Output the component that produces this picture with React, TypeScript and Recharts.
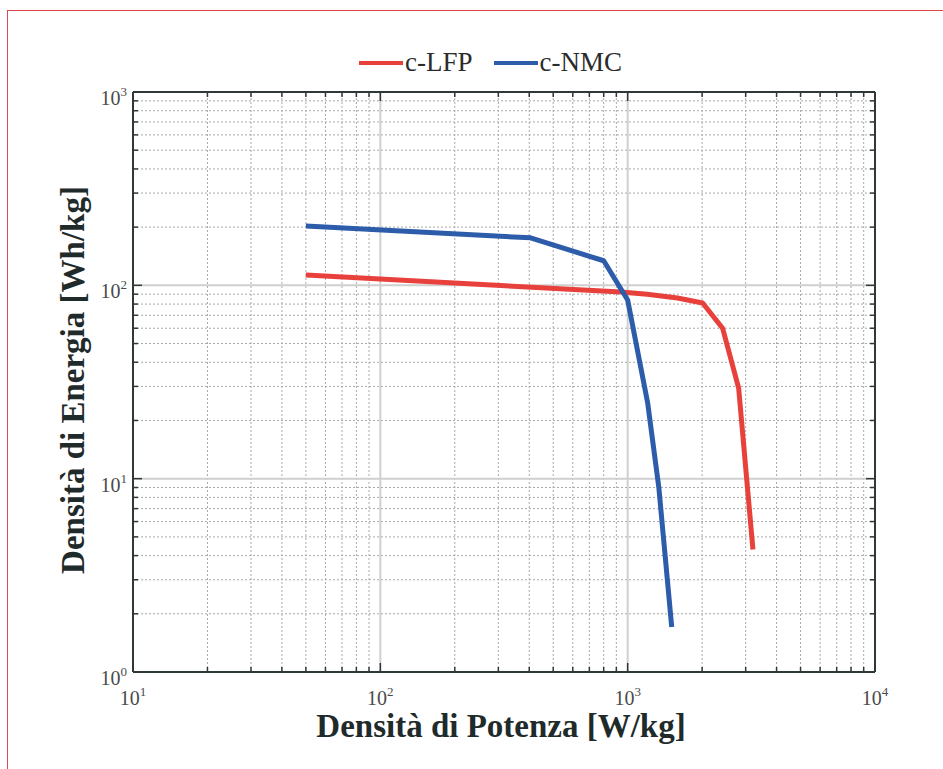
import React from 'react';
import { LineChart, Line, XAxis, YAxis, ReferenceLine, Label } from 'recharts';

// (log-log)
const lfpPower = [50, 940, 1200, 1590, 2010, 2420, 2810, 3210];
const lfpEnergy = [113, 92.3, 90, 86, 81, 60, 29.4, 4.3];
const nmcPower = [50, 405, 800, 1000, 1205, 1336, 1507];
const nmcEnergy = [203, 176, 134, 84, 24.6, 9.05, 1.71];

const seriesNames = ['c-LFP', 'c-NMC'];
const seriesColors = ['#e8413c', '#2c5caa'];

const xDecades = [10, 100, 1000, 10000];
const xExponents = ['1', '2', '3', '4'];
const yDecades = [1, 10, 100, 1000];
const yExponents = ['0', '1', '2', '3'];
const minorSteps = [2, 3, 4, 5, 6, 7, 8, 9];

const xTitle = 'Densità di Potenza [W/kg]';
const yTitle = 'Densità di Energia [Wh/kg]';

const xMinor = xDecades.slice(0, -1).flatMap(d => minorSteps.map(s => s * d));
const yMinor = yDecades.slice(0, -1).flatMap(d => minorSteps.map(s => s * d));
const xTicks = [...xDecades, ...xMinor].sort((a, b) => a - b);
const yTicks = [...yDecades, ...yMinor].sort((a, b) => a - b);

const lfpData = lfpPower.map((p, i) => ({ power: p, energy: lfpEnergy[i] }));
const nmcData = nmcPower.map((p, i) => ({ power: p, energy: nmcEnergy[i] }));

const FRAME = '#2f3838';
const SERIF = '"Liberation Serif", "Times New Roman", serif';

const makeTick = (side: string, decades: number[], exps: string[]) => (props: any) => {
  const { x, y, payload } = props;
  const idx = decades.indexOf(payload.value);
  const len = idx >= 0 ? 9 : 5;
  let x2 = x, y2 = y;
  if (side === 'bottom') y2 = y - len;
  if (side === 'top') y2 = y + len;
  if (side === 'left') x2 = x + len;
  if (side === 'right') x2 = x - len;
  return (
    <g>
      <line x1={x} y1={y} x2={x2} y2={y2} stroke={FRAME} strokeWidth={1.5} />
      {idx >= 0 && side === 'bottom' && (
        <text x={x} y={y + 33} textAnchor="middle" fill="#4a4a4a" fontFamily={SERIF} fontSize={20}>
          <tspan>10</tspan>
          <tspan dy={-9} fontSize={13}>{exps[idx]}</tspan>
        </text>
      )}
      {idx >= 0 && side === 'left' && (
        <text x={x - 6} y={y + 13} textAnchor="end" fill="#4a4a4a" fontFamily={SERIF} fontSize={20}>
          <tspan>10</tspan>
          <tspan dy={-9} fontSize={13}>{exps[idx]}</tspan>
        </text>
      )}
    </g>
  );
};

const XTitle = (props: any) => {
  const vb = props.viewBox;
  return (
    <text x={vb.x + vb.width / 2 - 3} y={vb.y + 65} textAnchor="middle" fill="#1f2b2b"
      fontFamily={SERIF} fontWeight="bold" fontSize={33}>{xTitle}</text>
  );
};

const YTitle = (props: any) => {
  const vb = props.viewBox;
  const cx = 84;
  const cy = vb.y + vb.height / 2 - 2;
  return (
    <text x={cx} y={cy} transform={`rotate(-90, ${cx}, ${cy})`} textAnchor="middle" fill="#1f2b2b"
      fontFamily={SERIF} fontWeight="bold" fontSize={33}>{yTitle}</text>
  );
};

const axisLine = { stroke: FRAME, strokeWidth: 2 };

export default function App() {
  return (
    <div style={{ position: 'absolute', left: 0, top: 0, width: 943, height: 769, overflow: 'hidden', background: '#fff' }}>
      <div style={{ position: 'absolute', left: 7, top: 10, width: 960, height: 800, border: '1.5px solid #e0474c' }} />
      <div style={{ position: 'absolute', left: 359, top: 47, display: 'flex', alignItems: 'center', fontFamily: SERIF, fontSize: 27, color: '#2b2b2b' }}>
        {seriesNames.map((name, i) => (
          <div key={name} style={{ display: 'flex', alignItems: 'center', marginRight: i === 0 ? 21 : 0 }}>
            <span style={{ display: 'inline-block', width: 44, height: 4, background: seriesColors[i], marginRight: 2 }} />
            <span>{name}</span>
          </div>
        ))}
      </div>
      <div style={{ position: 'absolute', left: 0, top: 0 }}>
        <LineChart width={943} height={769} margin={{ top: 91, right: 67, bottom: 57, left: 73 }}>
          <XAxis dataKey="power" type="number" scale="log" domain={[10, 10000]} allowDataOverflow
            ticks={xTicks} interval={0} tickSize={0} tickMargin={0} tickLine={false}
            axisLine={axisLine} height={40} tick={makeTick('bottom', xDecades, xExponents)}>
            <Label content={<XTitle />} />
          </XAxis>
          <XAxis xAxisId="top" orientation="top" dataKey="power" type="number" scale="log" domain={[10, 10000]} allowDataOverflow
            ticks={xTicks} interval={0} tickSize={0} tickMargin={0} tickLine={false}
            axisLine={axisLine} height={1} tick={makeTick('top', xDecades, xExponents)} />
          <YAxis type="number" scale="log" domain={[1, 1000]} allowDataOverflow
            ticks={yTicks} interval={0} tickSize={0} tickMargin={0} tickLine={false}
            axisLine={axisLine} width={60} tick={makeTick('left', yDecades, yExponents)}>
            <Label content={<YTitle />} />
          </YAxis>
          <YAxis yAxisId="right" orientation="right" type="number" scale="log" domain={[1, 1000]} allowDataOverflow
            ticks={yTicks} interval={0} tickSize={0} tickMargin={0} tickLine={false}
            axisLine={axisLine} width={1} tick={makeTick('right', yDecades, yExponents)} />
          {xMinor.map(v => (
            <ReferenceLine key={'xm' + v} x={v} stroke="#a9a9a9" strokeDasharray="2 2" strokeWidth={1} />
          ))}
          {yMinor.map(v => (
            <ReferenceLine key={'ym' + v} y={v} stroke="#a9a9a9" strokeDasharray="2 2" strokeWidth={1} />
          ))}
          {xDecades.map(v => (
            <ReferenceLine key={'xM' + v} x={v} stroke="#cfcfcf" strokeWidth={2} />
          ))}
          {yDecades.map(v => (
            <ReferenceLine key={'yM' + v} y={v} stroke="#cfcfcf" strokeWidth={2} />
          ))}
          <Line data={lfpData} dataKey="energy" name={seriesNames[0]} type="linear" stroke={seriesColors[0]}
            strokeWidth={5} dot={false} strokeLinejoin="round" isAnimationActive={false} />
          <Line data={nmcData} dataKey="energy" name={seriesNames[1]} type="linear" stroke={seriesColors[1]}
            strokeWidth={5} dot={false} strokeLinejoin="round" isAnimationActive={false} />
        </LineChart>
      </div>
    </div>
  );
}
